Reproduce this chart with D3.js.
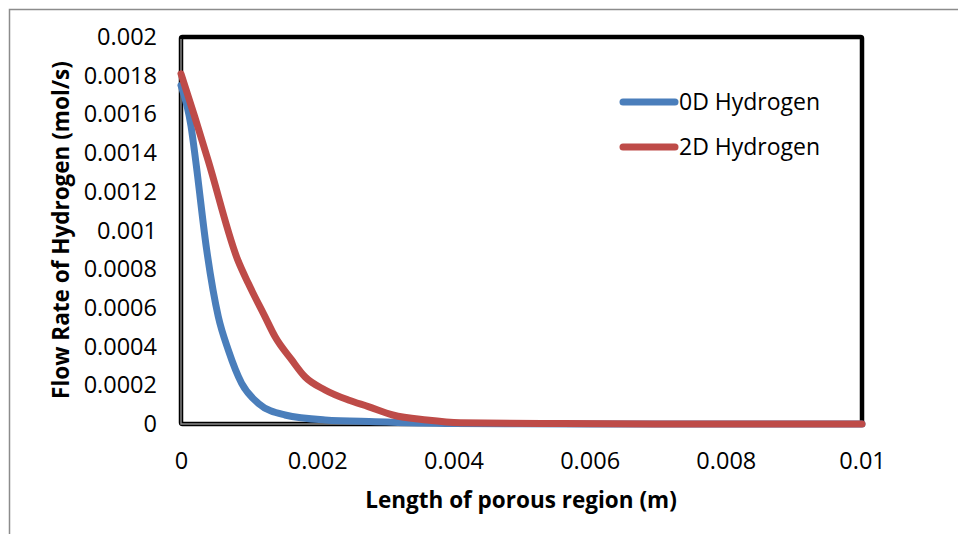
<!DOCTYPE html>
<html>
<head>
<meta charset="utf-8">
<script src="https://cdn.jsdelivr.net/npm/d3@7"></script>
<style>
    body { margin: 0; background: #fff; }
    svg { display: block; font-family: 'Open Sans', sans-serif; }
</style>
</head>
<body>
<div id="chart"></div>
<script>
// data
const xTicks = [0, 0.002, 0.004, 0.006, 0.008, 0.01];
const yTicks = [0, 0.0002, 0.0004, 0.0006, 0.0008, 0.001, 0.0012, 0.0014, 0.0016, 0.0018, 0.002];

const hydrogen0D = [
    [0, 0.00175], [0.000147, 0.00154], [0.000216, 0.00136], [0.000377, 0.0009],
    [0.000548, 0.000554], [0.000695, 0.000382], [0.000891, 0.00021], [0.001135, 0.000107],
    [0.001527, 0.0000465], [0.002115, 0.0000207], [0.00285, 0.000012], [0.004, 0.000003],
    [0.005, 0.000001], [0.006, 0], [0.008, 0], [0.01, 0]
];
const hydrogen2D = [
    [0, 0.00181], [0.0002, 0.00159], [0.0004, 0.00136], [0.000833, 0.000848],
    [0.000988, 0.000727], [0.001233, 0.000555], [0.00138, 0.000452], [0.001626, 0.000331],
    [0.00182, 0.000244], [0.002115, 0.000176], [0.002457, 0.000124], [0.00275, 0.00009],
    [0.00311, 0.0000465], [0.00361, 0.0000207], [0.0041, 0.0000067], [0.0056, 0.000002],
    [0.007, 0], [0.01, 0]
];
const seriesNames = ['0D Hydrogen', '2D Hydrogen'];
const seriesColors = ['#4a7ebb', '#be4b48'];

const width = 958;
const height = 534;
const plot = { left: 181, right: 862, top: 37, bottom: 424 };

const svg = d3.select('#chart')
    .append('svg')
    .attr('width', width)
    .attr('height', height);

// outer chart frame (runs off the right and bottom edge)
svg.append('rect')
    .attr('x', 9.5).attr('y', 9.5)
    .attr('width', 960).attr('height', 540)
    .attr('fill', '#fff')
    .attr('stroke', '#8c8c8c')
    .attr('stroke-width', 1.5);

const x = d3.scaleLinear().domain([0, 0.01]).range([plot.left, plot.right]);
const y = d3.scaleLinear().domain([0, 0.002]).range([plot.bottom, plot.top]);

// axes
svg.append('g')
    .attr('transform', `translate(${plot.left},0)`)
    .call(d3.axisLeft(y).tickValues(yTicks).tickSize(0).tickPadding(24).tickFormat(d => String(+d.toPrecision(4))))
    .call(g => g.select('.domain').remove())
    .selectAll('text')
    .attr('fill', '#000')
    .style('font-family', 'Open Sans, sans-serif')
    .style('font-size', '23.5px');

svg.append('g')
    .attr('transform', `translate(0,${plot.bottom})`)
    .call(d3.axisBottom(x).tickValues(xTicks).tickSize(0).tickFormat(d => String(+d.toPrecision(4))))
    .call(g => g.select('.domain').remove())
    .selectAll('text')
    .attr('y', 37)
    .attr('dy', '0.35em')
    .attr('fill', '#000')
    .style('font-family', 'Open Sans, sans-serif')
    .style('font-size', '23.5px');

// plot area border
svg.append('rect')
    .attr('x', plot.left).attr('y', plot.top)
    .attr('width', plot.right - plot.left)
    .attr('height', plot.bottom - plot.top)
    .attr('fill', 'none')
    .attr('stroke', '#000')
    .attr('stroke-width', 4.5)
    .attr('rx', 1.5);

svg.append('path')
    .attr('d', `M${plot.left},${plot.top + 2}V${plot.bottom}H${plot.right - 2}`)
    .attr('fill', 'none')
    .attr('stroke', '#8a8a8a')
    .attr('stroke-width', 1.4);

// lines
const line = d3.line()
    .x(d => x(d[0]))
    .y(d => y(d[1]))
    .curve(d3.curveMonotoneX);

[hydrogen0D, hydrogen2D].forEach((s, i) => {
    svg.append('path')
        .datum(s)
        .attr('d', line)
        .attr('fill', 'none')
        .attr('stroke', seriesColors[i])
        .attr('stroke-width', 7)
        .attr('stroke-linejoin', 'round')
        .attr('stroke-linecap', 'round');
});

// legend
const legend = svg.append('g');
seriesNames.forEach((name, i) => {
    const ly = 102 + i * 45;
    legend.append('line')
        .attr('x1', 623).attr('x2', 675)
        .attr('y1', ly).attr('y2', ly)
        .attr('stroke', seriesColors[i])
        .attr('stroke-width', 7)
        .attr('stroke-linecap', 'round');
    legend.append('text')
        .attr('x', 679).attr('y', ly)
        .attr('dy', '0.35em')
        .style('font-size', '23px')
        .text(name);
});

// axis titles
svg.append('text')
    .attr('transform', 'translate(61,230) rotate(-90)')
    .attr('text-anchor', 'middle')
    .attr('dy', '0.35em')
    .style('font-size', '22.5px')
    .style('font-weight', 'bold')
    .text('Flow Rate of Hydrogen (mol/s)');

svg.append('text')
    .attr('x', 521).attr('y', 500)
    .attr('text-anchor', 'middle')
    .attr('dy', '0.35em')
    .style('font-size', '22.5px')
    .style('font-weight', 'bold')
    .text('Length of porous region (m)');
</script>
</body>
</html>
